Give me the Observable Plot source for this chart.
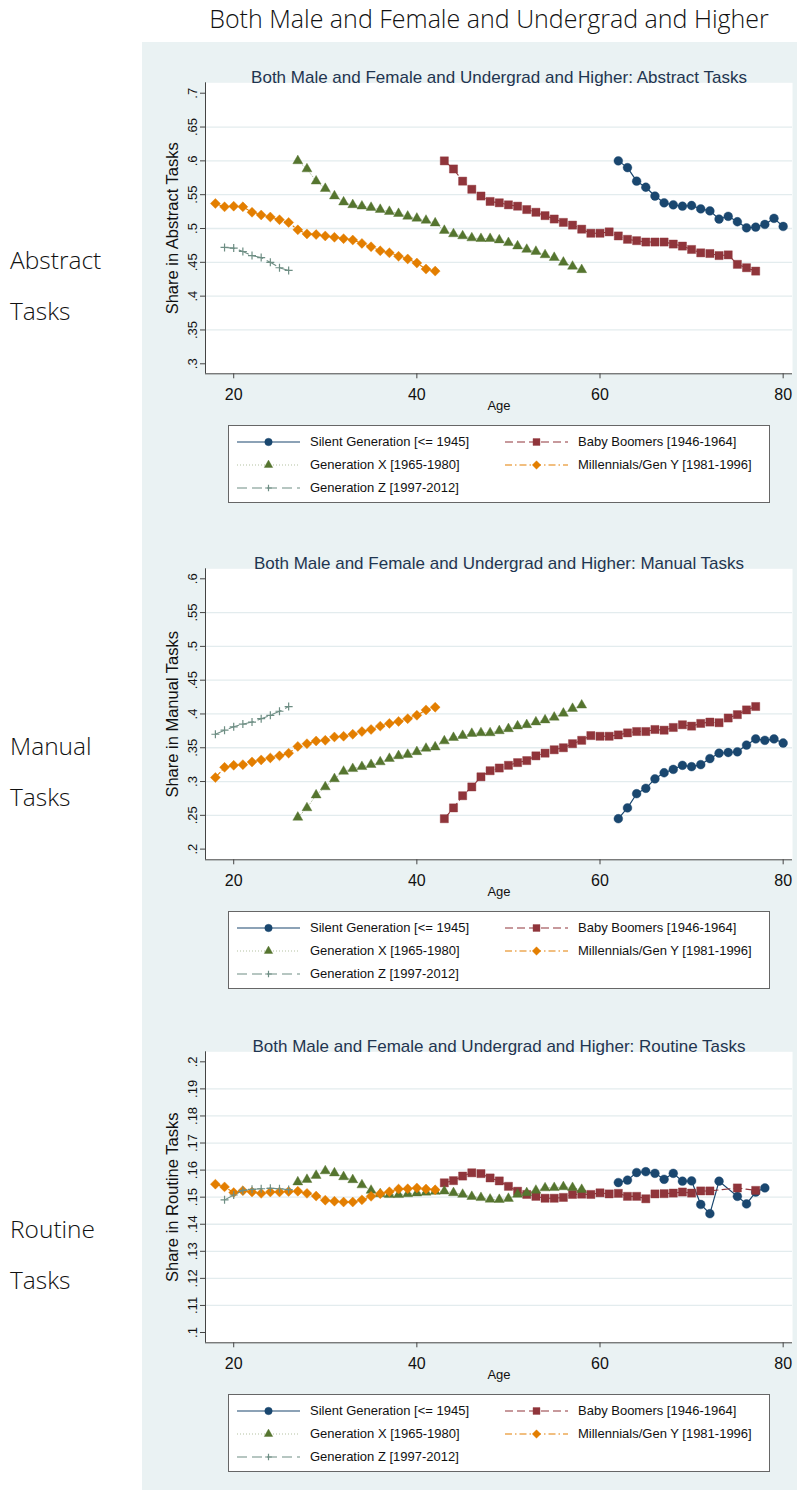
<!DOCTYPE html>
<html><head><meta charset="utf-8">
<script src="https://cdn.jsdelivr.net/npm/d3@7"></script>
<script src="https://cdn.jsdelivr.net/npm/@observablehq/plot@0.6"></script>
<style>
html,body{margin:0;padding:0;background:#fff;}
body{width:797px;height:1490px;position:relative;overflow:hidden;font-family:"Liberation Sans",Arial,sans-serif;}
#bg{position:absolute;left:142px;top:42px;width:655px;height:1448px;background:#eaf2f3;}
#head{position:absolute;left:189px;width:600px;top:0px;text-align:center;font-family:"Open Sans","Noto Sans",sans-serif;font-weight:300;font-size:25px;color:#111;line-height:36px;}
.side{position:absolute;left:10px;font-family:"Open Sans","Noto Sans",sans-serif;font-weight:300;font-size:24.5px;color:#111;line-height:51px;}
.panel{position:absolute;left:142px;}
.legend{position:absolute;left:228px;width:540px;height:76px;border:1px solid #666;background:#fff;}
.legend .item{position:absolute;height:20px;font-size:13px;color:#111;line-height:20px;white-space:nowrap;}
</style></head>
<body>
<div id="bg"></div>
<div id="head">Both Male and Female and Undergrad and Higher</div>
<div id="root"></div>
<script>
// ---------- data ----------
const header = "Both Male and Female and Undergrad and Higher";
const seriesNames = ["Silent Generation [<= 1945]", "Baby Boomers [1946-1964]", "Generation X [1965-1980]", "Millennials/Gen Y [1981-1996]", "Generation Z [1997-2012]"];
const panelTitles = ["Both Male and Female and Undergrad and Higher: Abstract Tasks", "Both Male and Female and Undergrad and Higher: Manual Tasks", "Both Male and Female and Undergrad and Higher: Routine Tasks"];
const yLabels = ["Share in Abstract Tasks", "Share in Manual Tasks", "Share in Routine Tasks"];
const sideLabels = [["Abstract", "Tasks"], ["Manual", "Tasks"], ["Routine", "Tasks"]];
const xTicks = [20, 40, 60, 80];
const yTicksAbs = [0.3, 0.35, 0.4, 0.45, 0.5, 0.55, 0.6, 0.65, 0.7];
const yTicksMan = [0.2, 0.25, 0.3, 0.35, 0.4, 0.45, 0.5, 0.55, 0.6];
const yTicksRou = [0.1, 0.11, 0.12, 0.13, 0.14, 0.15, 0.16, 0.17, 0.18, 0.19, 0.2];

// ages
const agesSilent = [62,63,64,65,66,67,68,69,70,71,72,73,74,75,76,77,78,79,80];
const agesBoomers = [43,44,45,46,47,48,49,50,51,52,53,54,55,56,57,58,59,60,61,62,63,64,65,66,67,68,69,70,71,72,73,74,75,76,77];
const agesGenX = [27,28,29,30,31,32,33,34,35,36,37,38,39,40,41,42,43,44,45,46,47,48,49,50,51,52,53,54,55,56,57,58];
const agesMill = [18,19,20,21,22,23,24,25,26,27,28,29,30,31,32,33,34,35,36,37,38,39,40,41,42];
const agesGenZ19 = [19,20,21,22,23,24,25,26];
const agesGenZ18 = [18,19,20,21,22,23,24,25,26];
const agesSilentRou = [62,63,64,65,66,67,68,69,70,71,72,73,75,76,77,78];
const agesBoomersRou = [43,44,45,46,47,48,49,50,51,52,53,54,55,56,57,58,59,60,61,62,63,64,65,66,67,68,69,70,71,72,75,77];

// Abstract
const silentAbs = [0.600,0.590,0.570,0.561,0.548,0.538,0.535,0.533,0.534,0.529,0.526,0.514,0.518,0.510,0.501,0.502,0.506,0.515,0.503];
const boomersAbs = [0.600,0.588,0.570,0.558,0.548,0.540,0.538,0.535,0.533,0.528,0.524,0.519,0.514,0.509,0.505,0.499,0.493,0.493,0.495,0.489,0.484,0.482,0.480,0.480,0.480,0.477,0.474,0.469,0.464,0.463,0.460,0.461,0.447,0.442,0.437];
const genXAbs = [0.600,0.588,0.570,0.559,0.548,0.539,0.535,0.533,0.531,0.528,0.525,0.522,0.518,0.515,0.512,0.508,0.497,0.492,0.489,0.486,0.485,0.485,0.483,0.479,0.474,0.469,0.466,0.461,0.457,0.450,0.444,0.439];
const millAbs = [0.537,0.532,0.533,0.532,0.524,0.520,0.517,0.513,0.509,0.498,0.492,0.491,0.489,0.487,0.485,0.483,0.478,0.473,0.467,0.464,0.459,0.455,0.449,0.440,0.437];
const genZAbs = [0.472,0.471,0.466,0.460,0.457,0.450,0.442,0.438];

// Manual
const silentMan = [0.245,0.261,0.282,0.290,0.304,0.313,0.318,0.324,0.322,0.325,0.334,0.342,0.343,0.344,0.354,0.363,0.361,0.363,0.357];
const boomersMan = [0.245,0.261,0.279,0.292,0.307,0.316,0.320,0.324,0.328,0.331,0.338,0.342,0.347,0.350,0.356,0.361,0.368,0.367,0.367,0.369,0.372,0.374,0.374,0.377,0.376,0.380,0.384,0.382,0.386,0.388,0.387,0.394,0.399,0.406,0.411];
const genXMan = [0.247,0.261,0.280,0.292,0.304,0.315,0.319,0.322,0.325,0.329,0.334,0.338,0.340,0.344,0.349,0.351,0.360,0.365,0.368,0.371,0.372,0.372,0.375,0.378,0.382,0.384,0.388,0.391,0.395,0.401,0.408,0.413];
const millMan = [0.306,0.321,0.324,0.325,0.329,0.332,0.335,0.338,0.342,0.352,0.356,0.360,0.361,0.366,0.367,0.370,0.374,0.377,0.382,0.386,0.389,0.393,0.398,0.406,0.410];
const genZMan = [0.370,0.376,0.381,0.385,0.388,0.393,0.398,0.404,0.411];

// Routine
const silentRou = [0.1554,0.1563,0.1591,0.1594,0.1588,0.1566,0.1588,0.1559,0.1560,0.1473,0.1439,0.1559,0.1503,0.1475,0.1519,0.1534];
const boomersRou = [0.1553,0.1561,0.1578,0.1590,0.1587,0.1571,0.1560,0.1540,0.1522,0.1510,0.1503,0.1496,0.1496,0.1499,0.1510,0.1511,0.1510,0.1516,0.1512,0.1514,0.1503,0.1503,0.1494,0.1512,0.1513,0.1515,0.1519,0.1515,0.1523,0.1523,0.1534,0.1525];
const genXRou = [0.1556,0.1565,0.1580,0.1597,0.1589,0.1575,0.1564,0.1545,0.1525,0.1512,0.1509,0.1509,0.1512,0.1515,0.1518,0.1521,0.1522,0.1516,0.1510,0.1502,0.1498,0.1492,0.1491,0.1495,0.1510,0.1516,0.1525,0.1534,0.1535,0.1538,0.1535,0.1528];
const millRou = [0.1548,0.1538,0.1517,0.1524,0.1519,0.1514,0.1519,0.1519,0.1521,0.1522,0.1514,0.1504,0.1489,0.1485,0.1482,0.1482,0.1490,0.1503,0.1513,0.1520,0.1530,0.1531,0.1534,0.1530,0.1527];
const genZRou = [0.1490,0.1508,0.1525,0.1529,0.1531,0.1533,0.1531,0.1528];

// ---------- styles ----------
const seriesStyle = [
  {color:"#1a476f", dash:null,        lw:1.2, lo:1,    symbol:"circle",   r:4.4, filled:true},
  {color:"#90353b", dash:"8 4",       lw:1.1, lo:1,    symbol:"square",   r:4.6, filled:true},
  {color:"#55752f", dash:"1 2",       lw:0.9, lo:0.5,  symbol:"triangle", r:3.7, filled:true},
  {color:"#e37e00", dash:"7 3 1.5 3", lw:1.1, lo:1,    symbol:"diamond2", r:4.5, filled:true},
  {color:"#6e8e84", dash:"10 5",      lw:1.1, lo:1,    symbol:"plus",     r:2.7, filled:false}
];

function zip(ages, vals){ return ages.map((a,i)=>({age:a, v:vals[i]})); }

const panels = [
  {ticks:yTicksAbs, domain:[0.2852,0.7154], series:[zip(agesSilent,silentAbs), zip(agesBoomers,boomersAbs), zip(agesGenX,genXAbs), zip(agesMill,millAbs), zip(agesGenZ19,genZAbs)]},
  {ticks:yTicksMan, domain:[0.1842,0.6148], series:[zip(agesSilent,silentMan), zip(agesBoomers,boomersMan), zip(agesGenX,genXMan), zip(agesMill,millMan), zip(agesGenZ18,genZMan)]},
  {ticks:yTicksRou, domain:[0.0962,0.2037], series:[zip(agesSilentRou,silentRou), zip(agesBoomersRou,boomersRou), zip(agesGenX,genXRou), zip(agesMill,millRou), zip(agesGenZ19,genZRou)]}
];
const offsets = [0, 485.5, 969];
const xDomain = [16.92, 81.02];
const fmt = d => String(d).replace(/^0\./, ".");

const root = document.getElementById("root");
const FONT = '"Liberation Sans", Arial, sans-serif';

panels.forEach((p, i) => {
  const off = offsets[i];
  const interior = p.ticks.slice(1, -1);
  const marks = [
    Plot.frame({fill:"white", stroke:null}),
    Plot.gridY(interior, {stroke:"#e3ecee", strokeOpacity:1, strokeWidth:1.3}),
    Plot.ruleX([xDomain[0]], {stroke:"#444", strokeWidth:1}),
    Plot.ruleY([p.domain[0]], {stroke:"#444", strokeWidth:1}),
    Plot.axisY({ticks:p.ticks, tickFormat:fmt, tickRotate:-90, tickSize:5, fontSize:13, label:null, stroke:"#444"}),
    Plot.axisX({ticks:xTicks, tickSize:5, tickPadding:10, fontSize:16, label:null, stroke:"#444"})
  ];
  p.series.forEach((data, k) => {
    const s = seriesStyle[k];
    marks.push(Plot.line(data, {x:"age", y:"v", stroke:s.color, strokeWidth:s.lw, strokeOpacity:s.lo, strokeDasharray:s.dash}));
    if (s.filled) {
      marks.push(Plot.dot(data, {x:"age", y:"v", symbol:s.symbol, r:s.r, fill:s.color, stroke:s.color, strokeWidth:0.4}));
    } else {
      marks.push(Plot.dot(data, {x:"age", y:"v", symbol:s.symbol, r:s.r, fill:"none", stroke:s.color, strokeWidth:1.2}));
    }
  });
  marks.push(Plot.text([panelTitles[i]], {text:d=>d, frameAnchor:"top", dy:-12.3, fontSize:17, fill:"#1f3550"}));
  marks.push(Plot.text(["Age"], {text:d=>d, frameAnchor:"bottom", dy:36.5, fontSize:13, fill:"#111"}));
  marks.push(Plot.text([yLabels[i]], {text:d=>d, frameAnchor:"left", textAnchor:"middle", dx:-33, rotate:-90, fontSize:16.5, fill:"#111"}));

  const svg = Plot.plot({
    width:655, height:440,
    marginTop:40.3, marginBottom:108.7, marginLeft:63, marginRight:5,
    x:{domain:xDomain},
    y:{domain:p.domain},
    style:{background:"transparent", fontFamily:FONT, color:"#111", overflow:"visible"},
    marks
  });
  const wrap = document.createElement("div");
  wrap.className = "panel";
  wrap.style.top = (42 + off) + "px";
  wrap.appendChild(svg);
  root.appendChild(wrap);

  // side labels
  sideLabels[i].forEach((t, j) => {
    const d = document.createElement("div");
    d.className = "side";
    d.style.top = (234 + off + j*51) + "px";
    d.textContent = t;
    root.appendChild(d);
  });

  // legend
  const lg = document.createElement("div");
  lg.className = "legend";
  lg.style.top = (425 + off) + "px";
  const pos = [[0,0],[0,1],[1,0],[1,1],[2,0]];
  seriesNames.forEach((name, k) => {
    const s = seriesStyle[k];
    const [row, col] = pos[k];
    const cy = [16, 39, 62][row];
    const x0 = col === 0 ? 7 : 275;
    const item = document.createElement("div");
    item.className = "item";
    item.style.left = x0 + "px";
    item.style.top = (cy - 10) + "px";
    const ns = "http://www.w3.org/2000/svg";
    const sv = document.createElementNS(ns, "svg");
    sv.setAttribute("width", 64); sv.setAttribute("height", 20);
    sv.style.position = "absolute"; sv.style.left = "0px"; sv.style.top = "0px";
    const ln = document.createElementNS(ns, "line");
    ln.setAttribute("x1", 1); ln.setAttribute("x2", 64); ln.setAttribute("y1", 10); ln.setAttribute("y2", 10);
    ln.setAttribute("stroke", s.color); ln.setAttribute("stroke-width", s.lw); ln.setAttribute("stroke-opacity", s.lo);
    if (s.dash) ln.setAttribute("stroke-dasharray", s.dash);
    sv.appendChild(ln);
    const symMap = {circle:d3.symbolCircle, square:d3.symbolSquare, triangle:d3.symbolTriangle, diamond2:d3.symbolDiamond2, plus:d3.symbolPlus};
    const path = document.createElementNS(ns, "path");
    const rr = s.r * 0.85;
    path.setAttribute("d", d3.symbol(symMap[s.symbol], Math.PI*rr*rr)());
    path.setAttribute("transform", "translate(32.5,10)");
    if (s.filled) { path.setAttribute("fill", s.color); path.setAttribute("stroke", s.color); path.setAttribute("stroke-width", 0.4); }
    else { path.setAttribute("fill", "none"); path.setAttribute("stroke", s.color); path.setAttribute("stroke-width", 1.2); }
    sv.appendChild(path);
    item.appendChild(sv);
    const tx = document.createElement("span");
    tx.textContent = name;
    tx.style.position = "absolute"; tx.style.left = "74px";
    item.appendChild(tx);
    lg.appendChild(item);
  });
  root.appendChild(lg);
});
</script>
</body></html>
